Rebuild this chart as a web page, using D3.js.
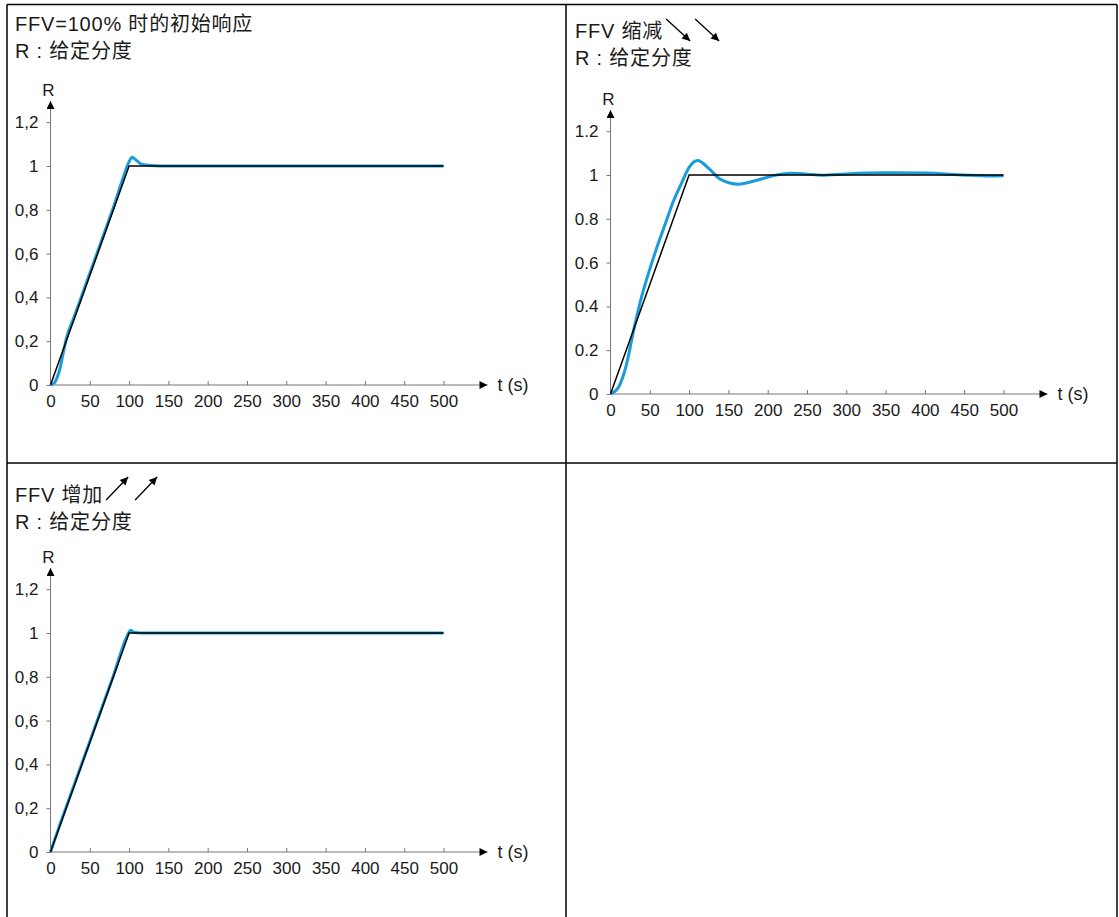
<!DOCTYPE html>
<html>
<head>
<meta charset="utf-8">
<script src="https://cdn.jsdelivr.net/npm/d3@7"></script>
<style>
  body { margin: 0; background: #fff; }
  svg { display: block; }
  text { font-family: "Liberation Sans", Arial, "Noto Sans CJK SC", sans-serif; fill: #1a1a1a; }
</style>
</head>
<body>
<svg id="chart" width="1119" height="917"></svg>
<script>
// axis ticks
const xTicks = [0, 50, 100, 150, 200, 250, 300, 350, 400, 450, 500];
const yTicks = [0, 0.2, 0.4, 0.6, 0.8, 1, 1.2];

// setpoint ramp (same in all three charts)
const rampT = [0, 100, 500];
const rampV = [0, 1, 1];

// FFV = 100%
const initT = [0, 5, 10, 13, 17, 20, 30, 40, 50, 60, 70, 80, 90, 100, 104, 108, 115, 125, 140, 200, 300, 400, 500];
const initV = [0, 0.01, 0.05, 0.09, 0.16, 0.21, 0.31, 0.41, 0.51, 0.61, 0.71, 0.81, 0.92, 1.02, 1.04, 1.03, 1.01, 1.003, 1.0, 1.0, 1.0, 1.0, 1.0];

// FFV reduced
const downT = [0, 10, 20, 30, 40, 50, 60, 70, 80, 90, 100, 111, 125, 140, 163, 185, 205, 230, 250, 268, 300, 350, 400, 450, 480, 500];
const downV = [0, 0.03, 0.13, 0.3, 0.45, 0.57, 0.68, 0.78, 0.88, 0.96, 1.035, 1.066, 1.03, 0.98, 0.958, 0.975, 0.995, 1.008, 1.004, 0.999, 1.005, 1.01, 1.009, 1.0, 0.996, 0.997];

// FFV increased
const upT = [0, 10, 20, 50, 80, 98, 102, 106, 115, 200, 500];
const upV = [0, 0.105, 0.205, 0.505, 0.805, 0.99, 1.012, 1.003, 1.0, 1.0, 1.0];

const svg = d3.select("#chart");

const defs = svg.append("defs");
defs.append("marker")
  .attr("id", "head")
  .attr("viewBox", "0 0 10 10")
  .attr("refX", 10).attr("refY", 5)
  .attr("markerWidth", 14).attr("markerHeight", 8)
  .attr("markerUnits", "userSpaceOnUse")
  .attr("orient", "auto")
  .append("path").attr("d", "M0,0L10,5L0,10Z").attr("fill", "#000");
defs.append("marker")
  .attr("id", "small")
  .attr("viewBox", "0 0 10 10")
  .attr("refX", 10).attr("refY", 5)
  .attr("markerWidth", 13).attr("markerHeight", 8)
  .attr("markerUnits", "userSpaceOnUse")
  .attr("orient", "auto")
  .append("path").attr("d", "M0,0L10,5L0,10Z").attr("fill", "#000");

// table frame
const frame = svg.append("g").attr("stroke", "#000").attr("stroke-width", 1.5);
frame.append("line").attr("x1", 7).attr("y1", 4.5).attr("x2", 1117).attr("y2", 4.5);
frame.append("line").attr("x1", 7).attr("y1", 4.5).attr("x2", 7).attr("y2", 917);
frame.append("line").attr("x1", 1117).attr("y1", 4.5).attr("x2", 1117).attr("y2", 917);
frame.append("line").attr("x1", 566).attr("y1", 4.5).attr("x2", 566).attr("y2", 917);
frame.append("line").attr("x1", 7).attr("y1", 463).attr("x2", 1117).attr("y2", 463);

const panels = [
  { x0: 50.5, y0: 385, tx: 15, ty: 31, title: "FFV=100% 时的初始响应", sep: ",", t: initT, v: initV, arrows: null },
  { x0: 610.5, y0: 394, tx: 575, ty: 38, title: "FFV 缩减", sep: ".", t: downT, v: downV, arrows: "down" },
  { x0: 50.5, y0: 852, tx: 15, ty: 502, title: "FFV 增加", sep: ",", t: upT, v: upV, arrows: "up" }
];

const tickFont = "Liberation Sans, Arial, sans-serif";

panels.forEach(p => {
  const g = svg.append("g");
  const x = d3.scaleLinear().domain([0, 500]).range([p.x0, p.x0 + 393]);
  const y = d3.scaleLinear().domain([0, 1]).range([p.y0, p.y0 - 219]);

  // titles
  const t1 = g.append("text").attr("x", p.tx).attr("y", p.ty)
    .attr("font-size", 20).attr("letter-spacing", 0.8).text(p.title);
  g.append("text").attr("x", p.tx).attr("y", p.ty + 27)
    .attr("font-size", 20).attr("letter-spacing", 0.8).text("R : 给定分度");

  if (p.arrows) {
    const tw = t1.node().getComputedTextLength();
    const ax = p.tx + tw + 3;
    [0, 29].forEach(off => {
      const a = p.arrows === "down"
        ? [ax + off, p.ty - 19, ax + off + 24, p.ty + 3]
        : [ax + off, p.ty - 2, ax + off + 22, p.ty - 25];
      g.append("line")
        .attr("x1", a[0]).attr("y1", a[1]).attr("x2", a[2]).attr("y2", a[3])
        .attr("stroke", "#000").attr("stroke-width", 1.3)
        .attr("marker-end", "url(#small)");
    });
  }

  const fmt = d => d3.format("~g")(d).replace(".", p.sep);

  // x axis
  const xa = g.append("g").attr("transform", `translate(0,${p.y0})`)
    .call(d3.axisBottom(x).tickValues(xTicks).tickSizeInner(-4).tickSizeOuter(0).tickPadding(10).tickFormat(d3.format("d")));
  xa.select(".domain").remove();
  xa.selectAll(".tick line").attr("stroke", "#777");
  xa.selectAll("text").attr("font-size", 17).attr("font-family", tickFont).attr("fill", "#1a1a1a");

  // y axis
  const ya = g.append("g").attr("transform", `translate(${p.x0},0)`)
    .call(d3.axisLeft(y).tickValues(yTicks).tickSizeInner(4).tickSizeOuter(0).tickPadding(8).tickFormat(fmt));
  ya.select(".domain").remove();
  ya.selectAll(".tick line").attr("stroke", "#777");
  ya.selectAll("text").attr("font-size", 17).attr("font-family", tickFont).attr("fill", "#1a1a1a");

  // axis lines with arrow heads
  g.append("line").attr("x1", p.x0).attr("y1", p.y0).attr("x2", p.x0 + 437).attr("y2", p.y0)
    .attr("stroke", "#777").attr("stroke-width", 1).attr("marker-end", "url(#head)");
  g.append("line").attr("x1", p.x0).attr("y1", p.y0).attr("x2", p.x0).attr("y2", p.y0 - 284)
    .attr("stroke", "#777").attr("stroke-width", 1).attr("marker-end", "url(#head)");
  g.append("text").attr("x", p.x0 + 447).attr("y", p.y0 + 6).attr("font-size", 18).text("t (s)");
  g.append("text").attr("x", p.x0 - 2).attr("y", p.y0 - 289).attr("text-anchor", "middle").attr("font-size", 17).text("R");

  // response curve
  const line = d3.line().x(d => x(d[0])).y(d => y(d[1]));
  g.append("path")
    .datum(d3.zip(p.t, p.v))
    .attr("fill", "none").attr("stroke", "#1a9bdb").attr("stroke-width", 3)
    .attr("stroke-linejoin", "round")
    .attr("d", line.curve(d3.curveMonotoneX));

  // setpoint
  g.append("path")
    .datum(d3.zip(rampT, rampV))
    .attr("fill", "none").attr("stroke", "#000").attr("stroke-width", 1.5)
    .attr("d", d3.line().x(d => x(d[0])).y(d => y(d[1])));
});
</script>
</body>
</html>
